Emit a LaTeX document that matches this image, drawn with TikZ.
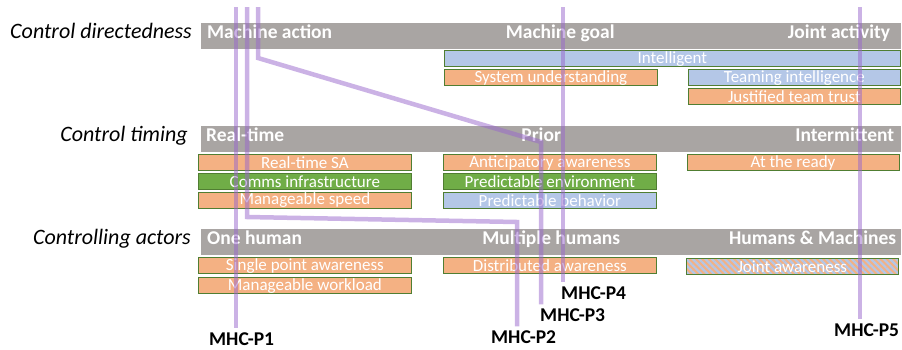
\documentclass[tikz,border=0pt]{standalone}
\usepackage{fontspec}
\setmainfont{Carlito}
\usepackage{xcolor}
\usetikzlibrary{
	positioning,
	patterns.meta,
	}
\definecolor{bargray}{HTML}{A9A5A3}
\definecolor{cellorange}{HTML}{F4B183}
\definecolor{cellblue}{HTML}{B4C7E7}
\definecolor{cellgreen}{HTML}{70AD47}
\definecolor{celledge}{HTML}{507E32}
\definecolor{mhcpurple}{HTML}{9866CC}

\begin{document}
\begin{tikzpicture}[x=1pt, y=-1pt,
	bar/.style={fill=bargray, minimum width=700pt, minimum height=26pt, inner sep=0, anchor=north west},
	bartext/.style={text=white, font=\fontsize{19.5}{20}\selectfont\bfseries, inner sep=0, text height=0.7em, text depth=0.25em},
	axis/.style={font=\fontsize{22}{22}\selectfont\itshape, inner sep=0, anchor=east, text height=0.7em, text depth=0.25em},
	cell/.style={draw=celledge, line width=0.8pt, minimum height=16pt, inner sep=0, text=white, font=\fontsize{17}{17}\selectfont},
	wide/.style={cell, minimum width=213pt},
	mhcline/.style={draw=mhcpurple, line width=4.5pt, draw opacity=0.5, shorten >=4pt},
	mhclabel/.style={font=\fontsize{19.5}{20}\selectfont\bfseries, inner sep=0, anchor=west},
	]
		\useasboundingbox (0,0) rectangle (902,349);

		% the three dimensions
		\node[bar] (dirbar) at (201,23) {};
		\node[bar] (timebar) at (201,126) {};
		\node[bar] (actbar) at (201,229) {};
		\node[axis] (cdir) at ([xshift=-9pt]dirbar.west) {Control directedness};
		\node[axis] (ctime) at ([xshift=-13pt]timebar.west) {Control timing};
		\node[axis] (cact) at ([xshift=-10pt]actbar.west) {Controlling actors};

		\node[bartext, anchor=west] (maction) at ([xshift=6pt]dirbar.west) {Machine action};
		\node[bartext] (mgoal) at ([xshift=9pt]dirbar.center) {Machine goal};
		\node[bartext, anchor=east] (jactivity) at ([xshift=-11pt]dirbar.east) {Joint activity};
		\node[bartext, anchor=west] (realtime) at ([xshift=5pt]timebar.west) {Real-time};
		\node[bartext] (prior) at ([xshift=-10pt]timebar.center) {Prior};
		\node[bartext, anchor=east] (intermit) at ([xshift=-7pt]timebar.east) {Intermittent};
		\node[bartext, anchor=west] (onehuman) at ([xshift=6pt]actbar.west) {One human};
		\node[bartext] (multi) at (actbar.center) {Multiple humans};
		\node[bartext, anchor=east] (humach) at ([xshift=-5pt]actbar.east) {Humans \& Machines};

		% requirements
		\node[cell, fill=cellblue, minimum width=456pt, below right=1pt and 243pt of dirbar.south west] (intel) {Intelligent};
		\node[wide, fill=cellorange, below right=2pt and 0pt of intel.south west] (sysund) {System understanding};
		\node[cell, fill=cellblue, minimum width=212pt, below left=2pt and 0pt of intel.south east] (teaming) {Teaming intelligence};
		\node[cell, fill=cellorange, minimum width=212pt, below=2pt of teaming] (trust) {Justified team trust};

		\node[wide, fill=cellorange, below right=2pt and -3pt of timebar.south west] (rtsa) {Real-time SA};
		\node[wide, fill=cellgreen, below=2pt of rtsa] (comms) {Comms infrastructure};
		\node[wide, fill=cellorange, below=2pt of comms] (speed) {Manageable speed};
		\node[wide, fill=cellorange, below right=2pt and 242pt of timebar.south west] (antic) {Anticipatory awareness};
		\node[wide, fill=cellgreen, below=2pt of antic] (predenv) {Predictable environment};
		\node[wide, fill=cellblue, below=2pt of predenv] (predbeh) {Predictable behavior};
		\node[cell, fill=cellorange, minimum width=212pt, below left=2pt and 2pt of timebar.south east] (ready) {At the ready};

		\node[wide, fill=cellorange, below right=2pt and -3pt of actbar.south west] (single) {Single point awareness};
		\node[wide, fill=cellorange, below=3pt of single] (workload) {Manageable workload};
		\node[wide, fill=cellorange, below right=2pt and 242pt of actbar.south west] (distrib) {Distributed awareness};
		\node[cell, minimum width=212pt, preaction={fill=cellorange}, pattern={Lines[angle=-45, distance=4.5pt, line width=2.2pt]}, pattern color=cellblue, below left=2pt and 2pt of actbar.south east] (jointaw) {Joint awareness};

		% MHC paths
		\node[mhclabel] (p1) at (209,339) {MHC-P1};
		\node[mhclabel] (p2) at (491,337) {MHC-P2};
		\node[mhclabel] (p3) at (540,315) {MHC-P3};
		\node[mhclabel] (p4) at (561,293) {MHC-P4};
		\node[mhclabel] (p5) at (834,330) {MHC-P5};

		\coordinate (p1top) at (236,7);
		\coordinate (p2top) at (247,7);
		\coordinate (p2turn) at (247,217);
		\coordinate (p2drop) at (517,222);
		\coordinate (p3top) at (258,7);
		\coordinate (p3turn) at (258,58);
		\coordinate (p3drop) at (541,142);
		\coordinate (p4top) at (563,7);
		\coordinate (p5top) at (860,7);

		\draw[mhcline] (p1top) -- (p1top |- p1.north);
		\draw[mhcline] (p2top) -- (p2turn) -- (p2drop) -- (p2drop |- p2.north);
		\draw[mhcline] (p3top) -- (p3turn) -- (p3drop) -- (p3drop |- p3.north);
		\draw[mhcline] (p4top) -- (p4top |- p4.north);
		\draw[mhcline] (p5top) -- (p5top |- p5.north);
	\end{tikzpicture}
\end{document}
